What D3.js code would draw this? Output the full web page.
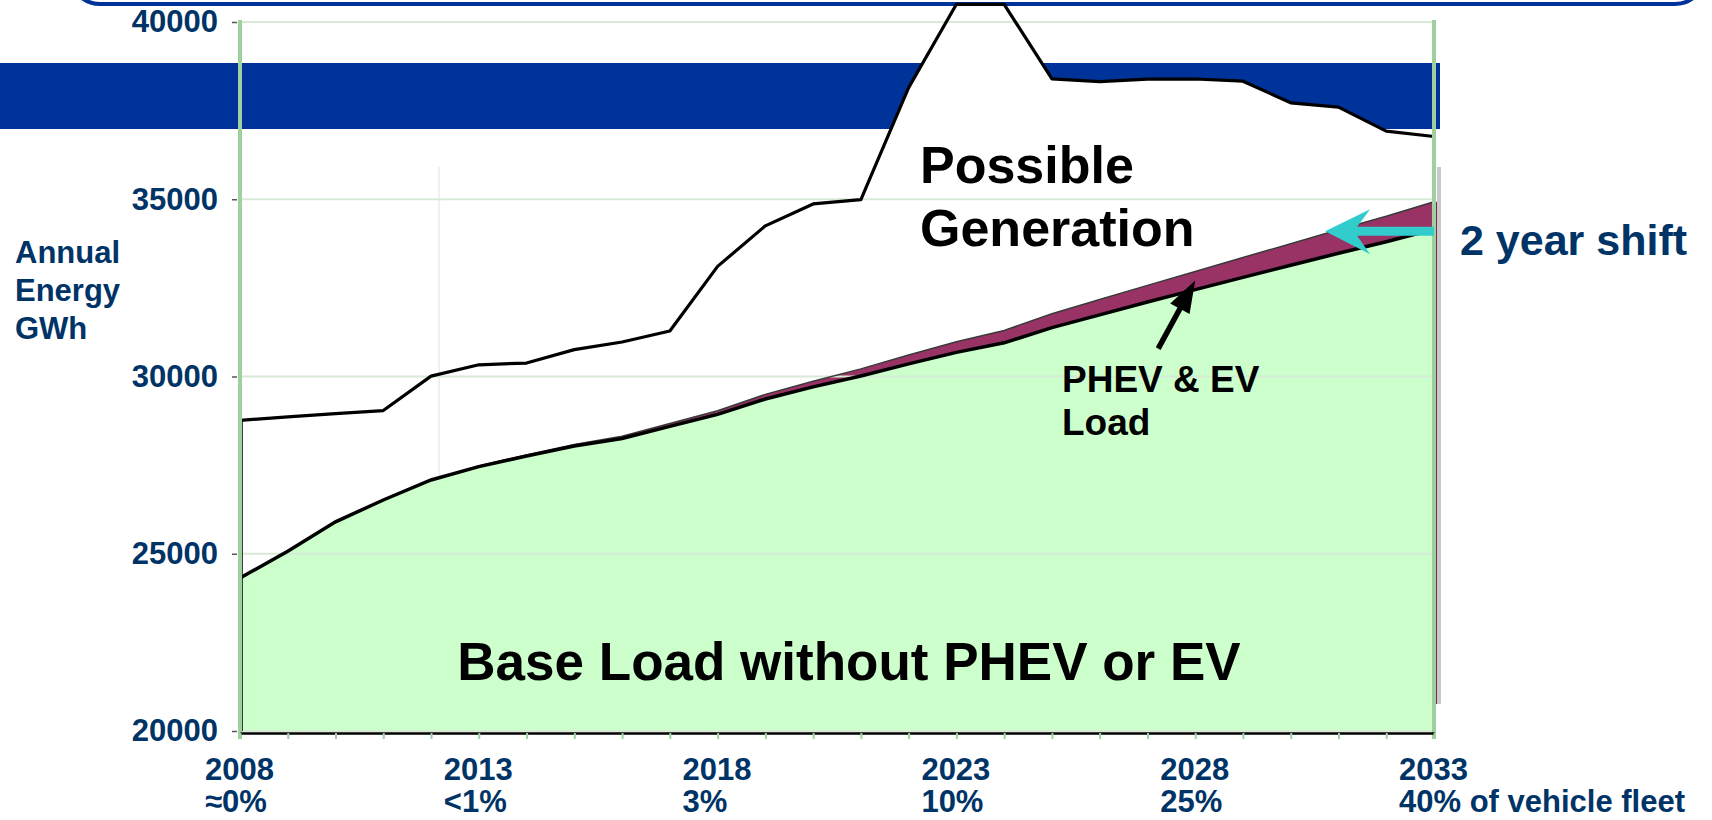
<!DOCTYPE html>
<html lang="en">
<head>
<meta charset="utf-8">
<title>PHEV and EV load vs possible generation</title>
<script src="https://d3js.org/d3.v7.min.js"></script>
<style>
  body { margin: 0; background: #fff; }
  svg { display: block; font-family: "Liberation Sans", Arial, sans-serif; font-weight: bold; }
</style>
</head>
<body>
<div id="chart"></div>
<script>
// values (GWh)
const years = [2008, 2009, 2010, 2011, 2012, 2013, 2014, 2015, 2016, 2017, 2018, 2019, 2020,
               2021, 2022, 2023, 2024, 2025, 2026, 2027, 2028, 2029, 2030, 2031, 2032, 2033];
const generation = [28762, 28860, 28955, 29040, 30010, 30330, 30380, 30757, 30973, 31282, 33106, 34250, 34868,
                    34992, 38150, 40500, 40500, 38394, 38320, 38390, 38392, 38330, 37720, 37600, 36920, 36770];
const baseLoad = [24315, 25071, 25901, 26516, 27082, 27459, 27758, 28037, 28253, 28593, 28933, 29366, 29706,
                  30015, 30355, 30680, 30950, 31380, 31740, 32100, 32450, 32797, 33137, 33477, 33800, 34153];
const evLoad = [0, 0, 0, 0, 5, 15, 30, 45, 60, 80, 100, 130, 160,
                200, 250, 300, 350, 390, 430, 470, 510, 560, 610, 660, 720, 775];
const yTicks = [20000, 25000, 30000, 35000, 40000];
const labelYears = [2008, 2013, 2018, 2023, 2028, 2033];
const fleetShare = ["≈0%", "<1%", "3%", "10%", "25%", "40% of vehicle fleet"];

const width = 1712, height = 820;
const navy = "#003366", green = "#9fd09f";

const svg = d3.select("#chart").append("svg")
    .attr("width", width)
    .attr("height", height);

const x = d3.scaleLinear().domain([2008, 2033]).range([240, 1434]);
const y = d3.scaleLinear().domain([20000, 40000]).range([731, 22]);

const data = years.map((yr, i) => ({year: yr, gen: generation[i], base: baseLoad[i], ev: evLoad[i]}));
const first = data[0], last = data[data.length - 1];

// slide decoration: rounded title box edge and blue band
svg.append("rect")
    .attr("x", 70).attr("y", -60)
    .attr("width", 1635).attr("height", 64)
    .attr("rx", 30)
    .attr("fill", "none")
    .attr("stroke", "#003399")
    .attr("stroke-width", 4);

svg.append("rect")
    .attr("x", 0).attr("y", 63)
    .attr("width", 1440).attr("height", 66)
    .attr("fill", "#003399");

// white area under possible generation
svg.append("path")
    .datum(data)
    .attr("fill", "#fff")
    .attr("d", d3.area()
      .x(d => x(d.year))
      .y0(y(20000))
      .y1(d => y(d.gen)));

// faint inner plot border
svg.append("line")
    .attr("x1", x(2012.17)).attr("x2", x(2012.17))
    .attr("y1", 167).attr("y2", y(27200))
    .attr("stroke", "#efefef")
    .attr("stroke-width", 2);

// base load (green) and PHEV/EV band (magenta)
svg.append("path")
    .datum(data)
    .attr("fill", "#ccffcc")
    .attr("d", d3.area()
      .x(d => x(d.year))
      .y0(y(20000))
      .y1(d => y(d.base)));

svg.append("path")
    .datum(data)
    .attr("fill", "#993366")
    .attr("d", d3.area()
      .x(d => x(d.year))
      .y0(d => y(d.base))
      .y1(d => y(d.base + d.ev)));

// gridlines
svg.append("g")
  .selectAll("line")
  .data(yTicks)
  .join("line")
    .attr("x1", x(2008)).attr("x2", x(2033))
    .attr("y1", d => y(d)).attr("y2", d => y(d))
    .attr("stroke", "#d6ead6")
    .attr("stroke-width", 2);

// left edge of the areas
svg.append("line")
    .attr("x1", x(first.year) + 2).attr("x2", x(first.year) + 2)
    .attr("y1", y(first.gen)).attr("y2", y(20000))
    .attr("stroke", "#000")
    .attr("stroke-width", 1.5);

// lines
svg.append("path")
    .datum(data)
    .attr("fill", "none")
    .attr("stroke", "#3a3a3a")
    .attr("stroke-width", 1.5)
    .attr("d", d3.line().x(d => x(d.year)).y(d => y(d.base + d.ev)));

svg.append("path")
    .datum(data)
    .attr("fill", "none")
    .attr("stroke", "#000")
    .attr("stroke-width", 3.5)
    .attr("d", d3.line().x(d => x(d.year)).y(d => y(d.base)));

svg.append("path")
    .datum(data)
    .attr("fill", "none")
    .attr("stroke", "#000")
    .attr("stroke-width", 3.2)
    .attr("stroke-linejoin", "round")
    .attr("d", d3.line().x(d => x(d.year)).y(d => y(d.gen)));

// right side edge of the 3d area
svg.append("rect")
    .attr("x", x(2033) + 3).attr("y", 167)
    .attr("width", 4).attr("height", 537)
    .attr("fill", "#c9c9c9");
svg.append("line")
    .attr("x1", x(2033) + 2).attr("x2", x(2033) + 2)
    .attr("y1", y(last.base + last.ev)).attr("y2", 704)
    .attr("stroke", "#7a2a50")
    .attr("stroke-width", 2);

// green vertical frame lines
svg.append("g")
  .selectAll("line")
  .data([2008, 2033])
  .join("line")
    .attr("x1", d => x(d)).attr("x2", d => x(d))
    .attr("y1", 20).attr("y2", 739)
    .attr("stroke", green)
    .attr("stroke-width", 4);

// x axis
const xAxis = svg.append("g")
    .attr("transform", "translate(0," + (y(20000) + 2) + ")")
    .call(d3.axisBottom(x).tickValues(years).tickSize(6).tickSizeOuter(0).tickFormat(""));
xAxis.select(".domain").attr("stroke", "#000").attr("stroke-width", 2.5);
xAxis.selectAll(".tick line").attr("stroke", green).attr("stroke-width", 2);

// y axis
const yAxis = svg.append("g")
    .attr("transform", "translate(" + (x(2008) - 3) + ",0)")
    .call(d3.axisLeft(y).tickValues(yTicks).tickSize(5).tickSizeOuter(0).tickPadding(14).tickFormat(d3.format("d")));
yAxis.select(".domain").remove();
yAxis.selectAll(".tick line").attr("stroke", "#555").attr("stroke-width", 1.5);
yAxis.selectAll(".tick text")
    .attr("fill", navy)
    .attr("font-size", 31)
    .attr("font-family", "Liberation Sans, Arial, sans-serif")
    .attr("font-weight", "bold");

// x labels, two lines
const xl = svg.append("g").attr("fill", navy).attr("font-size", 31);
labelYears.forEach((yr, i) => {
  xl.append("text").attr("x", x(yr) - 35).attr("y", 780).text(yr);
  xl.append("text").attr("x", x(yr) - 35).attr("y", 812).text(fleetShare[i]);
});

// y title
const yt = svg.append("text").attr("fill", navy).attr("font-size", 31);
["Annual", "Energy", "GWh"].forEach((t, i) => {
  yt.append("tspan").attr("x", 15).attr("y", 263 + i * 38).text(t);
});

// annotations
const gen = svg.append("text").attr("fill", "#000").attr("font-size", 52);
gen.append("tspan").attr("x", 920).attr("y", 183).text("Possible");
gen.append("tspan").attr("x", 920).attr("y", 246).text("Generation");

svg.append("text")
    .attr("x", 849).attr("y", 680)
    .attr("text-anchor", "middle")
    .attr("font-size", 53)
    .attr("fill", "#000")
    .text("Base Load without PHEV or EV");

const ev = svg.append("text").attr("fill", "#000").attr("font-size", 37);
ev.append("tspan").attr("x", 1062).attr("y", 392).text("PHEV & EV");
ev.append("tspan").attr("x", 1062).attr("y", 435).text("Load");

svg.append("text")
    .attr("x", 1460).attr("y", 255)
    .attr("font-size", 43)
    .attr("fill", navy)
    .text("2 year shift");

// black arrow pointing at the EV band in 2028
const iArrow = years.indexOf(2028);
const tip = [x(2028), y(baseLoad[iArrow] + evLoad[iArrow] / 2)];
const tail = [tip[0] - 37, tip[1] + 68];
const dx = tip[0] - tail[0], dy = tip[1] - tail[1];
const len = Math.hypot(dx, dy), ux = dx / len, uy = dy / len;
const headLen = 32, headW = 11;
const hb = [tip[0] - ux * headLen, tip[1] - uy * headLen];
svg.append("line")
    .attr("x1", tail[0]).attr("y1", tail[1])
    .attr("x2", hb[0] + ux * 4).attr("y2", hb[1] + uy * 4)
    .attr("stroke", "#000")
    .attr("stroke-width", 5.5);
svg.append("path")
    .attr("fill", "#000")
    .attr("d", "M" + tip + "L" + [hb[0] - uy * headW, hb[1] + ux * headW] +
               "L" + [hb[0] + uy * headW, hb[1] - ux * headW] + "Z");

// cyan "2 year shift" arrow
const ay = y(34100);
const ax0 = x(2033), ax1 = x(2030.72);
svg.append("path")
    .attr("fill", "#33cccc")
    .attr("d", [
      "M", ax1, ay,
      "L", ax1 + 45, ay - 22,
      "L", ax1 + 32, ay - 4.5,
      "L", ax0, ay - 4.5,
      "L", ax0, ay + 4.5,
      "L", ax1 + 32, ay + 4.5,
      "L", ax1 + 45, ay + 23,
      "Z"].join(" "));
</script>
</body>
</html>
